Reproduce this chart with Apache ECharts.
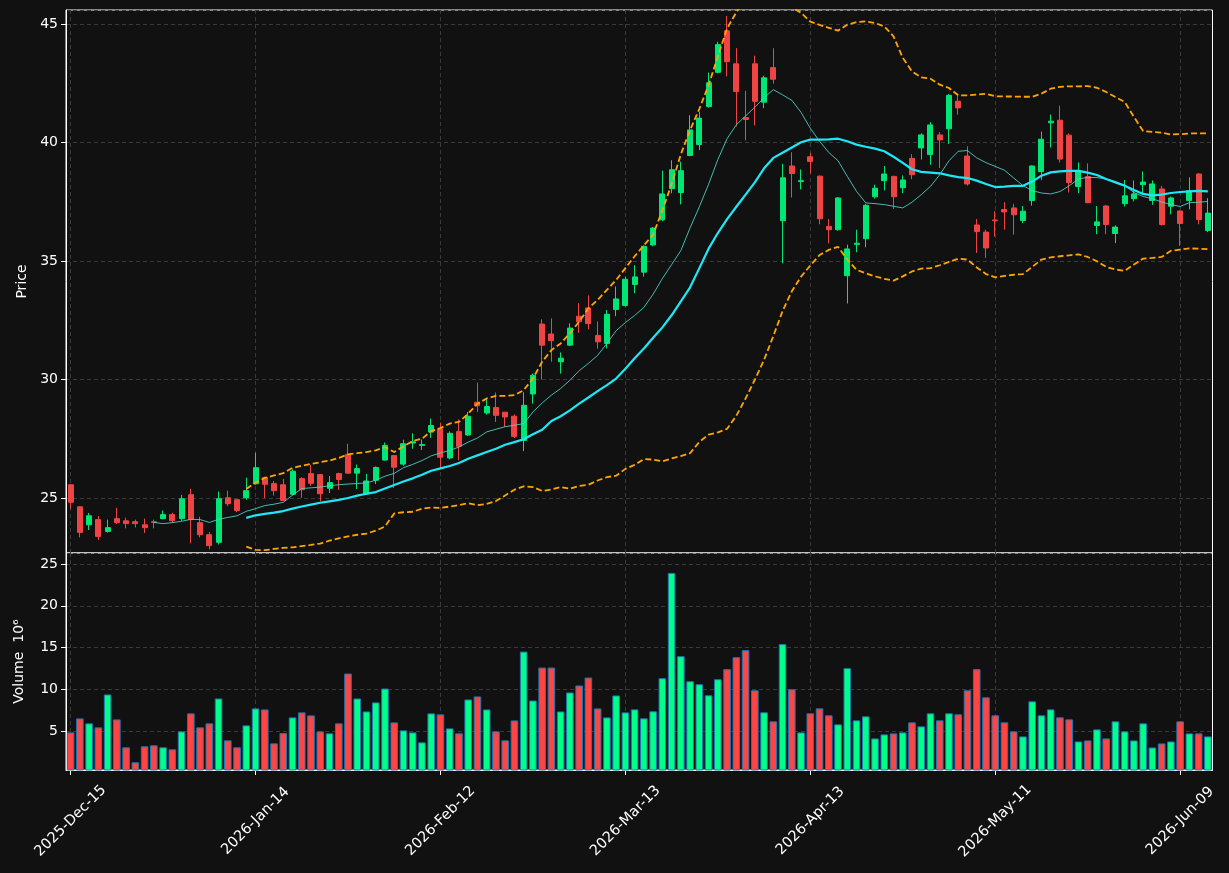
<!DOCTYPE html>
<html>
<head>
<meta charset="utf-8">
<script src="https://cdn.jsdelivr.net/npm/echarts@6/dist/echarts.min.js"></script>
<style>
  html, body { margin: 0; padding: 0; background: #111111; }
  #chart { width: 1229px; height: 873px; }
</style>
</head>
<body>
<div id="chart"></div>
<script>
// 交易日 (NYSE), 从 2025-12-15 开始
const startDay = '2025-12-15';
const holidays = ['2025-12-25', '2026-01-01', '2026-01-19', '2026-02-16', '2026-04-03', '2026-05-25'];
const monthNames = ['Jan', 'Feb', 'Mar', 'Apr', 'May', 'Jun', 'Jul', 'Aug', 'Sep', 'Oct', 'Nov', 'Dec'];

// K线数据
const opens = [25.56,24.63,23.87,24.09,23.59,24.13,24.04,24.00,23.87,24.00,24.13,24.30,24.13,25.14,23.96,23.45,23.13,25.01,24.93,25.01,
  25.60,25.86,25.61,25.56,25.16,25.82,26.03,25.99,25.41,26.03,26.84,26.05,25.17,25.75,26.60,26.79,26.43,27.32,27.22,27.78,
  27.92,26.69,27.81,27.66,29.04,28.59,28.82,28.62,28.45,27.43,29.39,32.34,31.92,30.75,31.45,32.67,33.02,31.86,31.52,32.95,
  33.12,34.01,34.53,35.68,36.74,38.05,37.89,39.45,39.91,41.52,42.96,44.71,43.32,41.05,43.32,41.70,43.16,36.70,39.01,38.35,
  39.40,38.58,36.46,36.32,34.38,35.70,35.94,37.71,38.39,38.57,38.09,39.33,39.77,39.49,40.32,40.58,41.74,39.43,36.52,36.22,
  36.73,37.17,37.24,36.71,37.55,38.77,40.83,40.94,40.31,38.14,38.56,36.50,37.32,36.16,37.42,37.63,38.22,37.55,38.04,37.31,
  37.11,37.55,38.67,36.29];
const closes = [24.82,23.55,24.25,23.38,23.75,23.96,23.92,23.92,23.75,23.97,24.30,24.04,24.97,24.09,23.45,22.99,24.97,24.76,24.47,25.31,
  26.28,25.58,25.31,24.90,26.13,25.35,25.62,25.18,25.65,25.78,26.05,26.24,25.72,26.29,27.22,26.30,27.29,27.37,27.26,28.06,
  26.72,27.73,27.18,28.45,28.89,28.86,28.49,28.42,27.60,28.91,30.18,31.45,31.64,30.90,32.17,32.44,32.36,31.59,32.75,33.40,
  34.23,34.33,35.62,36.39,37.83,38.85,38.81,40.53,41.03,42.52,44.13,43.41,42.15,40.97,41.74,42.73,42.67,38.51,38.69,38.39,
  39.20,36.78,36.32,37.66,35.51,35.75,37.35,38.07,38.67,37.71,38.42,38.64,40.32,40.74,40.11,41.99,41.46,38.25,36.24,35.55,
  36.70,37.07,36.95,37.10,39.01,40.14,40.90,39.30,38.31,38.80,37.46,36.65,36.54,36.43,37.75,37.83,38.33,38.25,36.54,37.66,
  36.58,37.96,36.75,37.02];
const lows = [24.54,23.34,23.65,23.23,23.54,23.90,23.72,23.76,23.52,23.72,24.10,23.96,24.04,23.09,23.34,22.83,23.04,24.66,24.40,24.93,
  25.56,25.00,25.11,24.89,25.11,25.01,25.51,24.86,25.21,25.34,26.03,25.38,25.14,25.59,26.58,25.42,26.36,27.08,27.03,27.54,
  26.27,26.63,26.59,27.62,28.63,28.52,28.21,28.00,27.53,26.98,28.98,30.00,30.75,30.25,31.41,31.97,32.12,31.30,31.31,32.67,
  33.07,33.64,34.34,35.62,36.68,37.86,37.39,39.42,39.68,41.47,42.92,42.79,40.68,40.09,40.72,41.45,42.48,34.90,37.68,38.02,
  38.70,36.55,35.74,36.28,33.21,35.37,35.58,37.63,37.98,37.19,37.86,38.45,39.28,39.06,38.92,39.94,41.17,38.18,35.34,35.13,
  36.03,36.32,36.11,36.60,37.34,38.42,39.79,39.16,37.89,37.86,37.44,36.13,36.13,35.76,37.30,37.51,37.79,37.37,36.50,36.97,
  35.64,37.18,36.55,36.22];
const highs = [25.58,24.65,24.37,24.24,24.09,24.59,24.17,24.09,24.13,24.09,24.47,24.38,25.13,25.39,24.21,23.57,25.27,25.31,24.95,25.86,
  26.91,25.90,25.72,25.81,26.21,25.88,26.40,26.00,25.93,26.07,27.29,26.41,26.02,26.33,27.34,26.81,27.46,27.73,27.47,28.35,
  28.18,27.81,28.31,28.63,29.87,29.20,29.45,28.63,28.53,29.46,30.25,32.54,32.58,31.14,32.37,33.22,33.55,32.45,32.93,33.92,
  34.34,34.82,35.66,36.43,38.81,39.25,39.19,41.15,41.30,42.95,44.25,45.34,43.98,42.18,43.66,42.82,43.98,39.10,39.59,38.86,
  39.56,38.61,36.77,37.70,35.69,36.32,37.41,38.22,39.01,38.60,38.61,39.51,40.39,40.86,40.44,42.05,42.05,39.84,36.77,36.32,
  37.10,37.48,37.41,37.32,39.03,40.46,41.18,41.55,40.38,39.16,39.12,37.32,37.37,36.50,38.42,38.40,38.78,38.40,38.17,37.72,
  37.14,38.53,38.71,37.65];

// 成交量 (10^6)
const volumes = [4.88,6.55,5.96,5.48,9.41,6.43,3.10,1.31,3.22,3.34,3.10,2.86,5.00,7.15,5.48,5.96,8.93,3.93,3.10,5.72,
  7.74,7.62,3.57,4.80,6.67,7.27,6.91,5.00,4.77,5.96,11.91,8.93,7.38,8.46,10.12,6.07,5.12,4.88,3.69,7.15,
  7.03,5.36,4.77,8.81,9.17,7.62,5.00,3.93,6.31,14.53,8.69,12.62,12.62,7.38,9.65,10.48,11.43,7.74,6.67,9.29,
  7.27,7.63,6.56,7.40,11.35,23.92,13.98,10.99,10.63,9.31,11.23,12.43,13.86,14.70,9.91,7.28,6.20,15.42,10.03,4.88,
  7.16,7.75,6.92,5.84,12.55,6.32,6.80,4.16,4.64,4.76,4.88,6.08,5.60,7.16,6.32,7.16,7.04,9.91,12.43,9.07,
  6.92,6.08,5.00,4.40,8.59,6.92,7.63,6.68,6.44,3.80,3.92,5.24,4.16,6.20,5.00,3.92,5.96,3.08,3.56,3.80,
  6.20,4.76,4.76,4.40];

// 均线, ma10 从第10根开始, 其余从第20根开始
const ma10Start = 9;
const ma10 = [23.97,23.92,23.96,24.02,24.10,24.09,23.97,24.10,24.18,24.25,24.44,
  24.55,24.68,24.74,24.82,25.12,25.40,25.43,25.46,25.52,25.56,25.59,25.61,25.64,25.75,25.92,26.04,26.28,26.42,26.58,26.78,
  26.90,27.01,27.15,27.36,27.53,27.79,27.90,28.01,28.07,28.14,28.63,29.01,29.34,29.62,29.97,30.37,30.68,31.02,31.52,32.06,
  32.40,32.70,33.04,33.60,34.26,34.85,35.44,36.40,37.29,38.24,39.28,40.16,40.75,41.12,41.49,41.89,42.23,42.01,41.78,41.27,
  40.60,40.05,39.58,39.23,38.57,37.94,37.45,37.42,37.38,37.31,37.24,37.48,37.80,38.15,38.64,39.23,39.63,39.66,39.35,39.15,
  38.99,38.83,38.50,38.18,37.97,37.87,37.83,37.93,38.17,38.46,38.53,38.52,38.46,38.36,38.19,37.89,37.72,37.63,37.49,37.38,
  37.30,37.46,37.48,37.51];
const bandStart = 19;
const ma20 = [24.16,
  24.27,24.33,24.38,24.45,24.55,24.64,24.72,24.80,24.86,24.92,25.00,25.10,25.18,25.25,25.40,25.55,25.70,25.83,25.98,26.15,
  26.25,26.35,26.48,26.66,26.80,26.94,27.08,27.25,27.36,27.48,27.69,27.88,28.25,28.45,28.70,28.98,29.24,29.51,29.76,30.04,
  30.45,30.90,31.31,31.76,32.20,32.71,33.30,33.89,34.70,35.52,36.18,36.77,37.29,37.80,38.32,38.91,39.35,39.57,39.79,40.01,
  40.12,40.12,40.13,40.16,40.05,39.91,39.82,39.74,39.63,39.40,39.14,38.87,38.76,38.73,38.70,38.61,38.54,38.50,38.39,38.25,
  38.12,38.14,38.17,38.17,38.35,38.60,38.74,38.78,38.80,38.80,38.73,38.63,38.46,38.31,38.18,38.00,37.83,37.77,37.80,37.87,
  37.91,37.94,37.96,37.94];
const bollUpper = [25.38,
  25.65,25.85,25.95,26.05,26.27,26.36,26.44,26.51,26.58,26.69,26.84,26.89,26.94,27.01,27.15,26.94,27.18,27.40,27.50,27.82,
  27.95,28.14,28.21,28.56,28.98,29.20,29.31,29.31,29.34,29.55,30.04,30.75,31.24,31.52,31.95,32.44,33.00,33.36,33.78,34.20,
  34.70,35.20,35.66,36.11,37.14,38.24,39.50,40.53,41.42,42.42,43.63,44.81,45.50,46.00,46.30,46.40,46.30,46.00,45.70,45.47,
  45.10,44.96,44.84,44.72,44.97,45.08,45.11,45.04,44.90,44.48,43.57,43.00,42.75,42.69,42.44,42.30,41.99,41.99,42.02,42.05,
  41.95,41.94,41.94,41.93,41.93,42.06,42.27,42.35,42.37,42.37,42.38,42.31,42.13,41.92,41.71,41.08,40.48,40.45,40.41,40.34,
  40.35,40.38,40.39,40.38];
const bollLower = [22.95,
  22.81,22.80,22.85,22.90,22.92,22.97,23.02,23.08,23.20,23.30,23.38,23.45,23.50,23.62,23.80,24.35,24.40,24.42,24.55,24.60,
  24.58,24.64,24.70,24.78,24.70,24.75,24.87,25.11,25.35,25.49,25.46,25.30,25.36,25.46,25.39,25.51,25.56,25.74,25.88,25.94,
  26.23,26.40,26.64,26.62,26.55,26.67,26.77,26.89,27.37,27.67,27.77,27.92,28.47,29.20,29.99,30.83,31.83,32.89,33.72,34.34,
  34.81,35.25,35.47,35.60,35.06,34.63,34.48,34.35,34.25,34.17,34.35,34.56,34.68,34.70,34.82,34.96,35.10,35.06,34.73,34.45,
  34.31,34.37,34.42,34.45,34.75,35.06,35.15,35.20,35.24,35.28,35.17,34.99,34.75,34.64,34.59,34.85,35.10,35.13,35.17,35.43,
  35.48,35.53,35.52,35.50];

const upColor = '#00e676';
const downColor = '#ef4444';
const volUp = '#00ff88';
const volDown = '#ff4444';

function tradingDays(start, count) {
    let out = [];
    let d = new Date(start + 'T00:00:00Z');
    while (out.length < count) {
        let dow = d.getUTCDay();
        let iso = d.toISOString().slice(0, 10);
        if (dow !== 0 && dow !== 6 && holidays.indexOf(iso) < 0) {
            out.push(d.getUTCFullYear() + '-' + monthNames[d.getUTCMonth()] + '-' + String(d.getUTCDate()).padStart(2, '0'));
        }
        d.setUTCDate(d.getUTCDate() + 1);
    }
    return out;
}

function pad(n, arr) {
    let out = [];
    for (let i = 0; i < n; i++) out.push(null);
    return out.concat(arr);
}

initChart();

function initChart() {
    let dates = tradingDays(startDay, opens.length);
    let kData = [];
    let volData = [];
    for (let i = 0; i < opens.length; i++) {
        kData.push([opens[i], closes[i], lows[i], highs[i]]);
        volData.push({
            value: volumes[i],
            itemStyle: { color: closes[i] >= opens[i] ? volUp : volDown }
        });
    }

    let font = 'DejaVu Sans';
    let gridLine = { show: true, lineStyle: { color: '#3a3a3a', type: [4, 3], width: 1 } };
    let xSplit = { show: true, interval: 19, alignWithLabel: true, lineStyle: { color: '#3a3a3a', type: [4, 3], width: 1 } };

    let chart = echarts.init(document.getElementById('chart'));
    let option = {
        backgroundColor: '#111111',
        animation: false,
        textStyle: { fontFamily: font },
        grid: [
            { left: 66, right: 16.5, top: 10, height: 543, show: true, borderColor: '#ffffff', borderWidth: 1, backgroundColor: '#111111' },
            { left: 66, right: 16.5, top: 553, height: 217, show: true, borderColor: '#ffffff', borderWidth: 1, backgroundColor: '#111111' }
        ],
        xAxis: [
            {
                type: 'category', gridIndex: 0, data: dates, boundaryGap: true,
                axisLine: { show: false }, axisTick: { show: false }, axisLabel: { show: false },
                splitLine: xSplit
            },
            {
                type: 'category', gridIndex: 1, data: dates, boundaryGap: true,
                axisLine: { show: true, lineStyle: { color: '#ffffff' } },
                axisTick: { show: true, interval: 19, alignWithLabel: true, length: 5, lineStyle: { color: '#ffffff' } },
                axisLabel: {
                    interval: 19, rotate: 45, align: 'center', verticalAlign: 'middle', margin: 51,
                    color: '#ffffff', fontSize: 14.5, fontFamily: font
                },
                splitLine: xSplit
            }
        ],
        yAxis: [
            {
                type: 'value', gridIndex: 0, min: 22.68, max: 45.59, splitNumber: 5,
                name: 'Price', nameLocation: 'middle', nameGap: 37,
                nameTextStyle: { color: '#ffffff', fontSize: 14, fontFamily: font },
                axisLine: { show: true, lineStyle: { color: '#ffffff' } },
                axisTick: { show: true, length: 5, lineStyle: { color: '#ffffff' } },
                axisLabel: { color: '#ffffff', fontSize: 14, fontFamily: font, margin: 8, showMinLabel: false, showMaxLabel: false },
                splitLine: gridLine
            },
            {
                type: 'value', gridIndex: 1, min: 0.39, max: 26.3, splitNumber: 5,
                name: 'Volume  10⁶', nameLocation: 'middle', nameGap: 40,
                nameTextStyle: { color: '#ffffff', fontSize: 14, fontFamily: font },
                axisLine: { show: true, lineStyle: { color: '#ffffff' } },
                axisTick: { show: true, length: 5, lineStyle: { color: '#ffffff' } },
                axisLabel: { color: '#ffffff', fontSize: 14, fontFamily: font, margin: 8, showMinLabel: false, showMaxLabel: false },
                splitLine: gridLine
            }
        ],
        series: [
            {
                name: 'K', type: 'candlestick', xAxisIndex: 0, yAxisIndex: 0,
                data: kData, barWidth: 5.5,
                itemStyle: { color: upColor, color0: downColor, borderColor: upColor, borderColor0: downColor, borderWidth: 1 }
            },
            {
                name: 'MA10', type: 'line', xAxisIndex: 0, yAxisIndex: 0,
                data: pad(ma10Start, ma10), symbol: 'none',
                lineStyle: { color: '#4fd6cc', width: 1, opacity: 0.85 }
            },
            {
                name: 'MA20', type: 'line', xAxisIndex: 0, yAxisIndex: 0,
                data: pad(bandStart, ma20), symbol: 'none',
                lineStyle: { color: '#1ee8f5', width: 2.2 }
            },
            {
                name: 'Upper', type: 'line', xAxisIndex: 0, yAxisIndex: 0,
                data: pad(bandStart, bollUpper), symbol: 'none',
                lineStyle: { color: '#ffa500', width: 1.8, type: [6, 3] }
            },
            {
                name: 'Lower', type: 'line', xAxisIndex: 0, yAxisIndex: 0,
                data: pad(bandStart, bollLower), symbol: 'none',
                lineStyle: { color: '#ffa500', width: 1.8, type: [6, 3] }
            },
            {
                name: 'Volume', type: 'bar', xAxisIndex: 1, yAxisIndex: 1,
                data: volData, barWidth: '82%',
                itemStyle: { borderColor: '#1f77b4', borderWidth: 1 }
            }
        ]
    };
    chart.setOption(option);
}
</script>
</body>
</html>
